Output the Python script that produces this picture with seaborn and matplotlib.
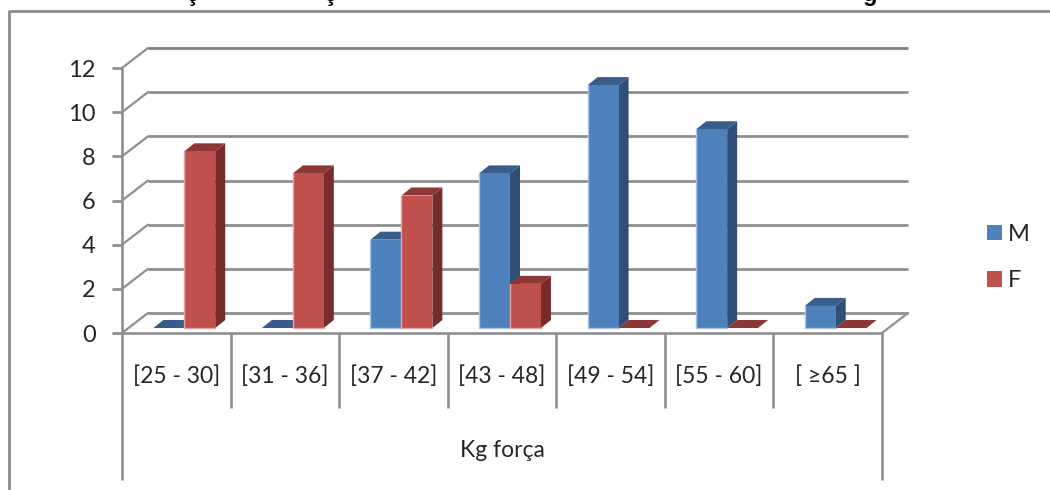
import matplotlib
matplotlib.use("Agg")
import matplotlib.pyplot as plt
from matplotlib.lines import Line2D
from matplotlib.patches import Polygon
from matplotlib.transforms import Affine2D
import pandas as pd
import seaborn as sns

categories = ["[25 - 30]", "[31 - 36]", "[37 - 42]", "[43 - 48]", "[49 - 54]", "[55 - 60]", "[ ≥65 ]"]
male = [0, 0, 4, 7, 11, 9, 1]
female = [8, 7, 6, 2, 0, 0, 0]
axis_title = "Kg força"
y_ticks = [0, 2, 4, 6, 8, 10, 12]

W, H = 1050, 490
GRID = "#8f8f8f"
TEXT = "#262626"
FACE = {"M": "#4f81bd", "F": "#c0504d"}
TOP = {"M": "#385d8a", "F": "#8c3836"}
SIDE = {"M": "#2f4f77", "F": "#772c2a"}
EDGE = {"M": "#a9c4e4", "F": "#e8a5a3"}

sns.set_theme(style="white")
plt.rcParams["font.family"] = ["Lato", "DejaVu Sans"]

frame = pd.DataFrame({
    "grupo": categories * 2,
    "sexo": ["M"] * len(categories) + ["F"] * len(categories),
    "valor": male + female,
})

fig = plt.figure(figsize=(W / 100, H / 100), dpi=100, facecolor="white")
# Axes rectangle is the front plane of the 3-D style plot box
ax = fig.add_axes([122 / W, 1 - 333 / H, 760 / W, 265 / H])
ax.patch.set_alpha(0)


def shifted(dx, dy):
    """Data transform followed by a shift in pixels (dy counts upward)."""
    return ax.transData + Affine2D().translate(dx, dy)


sns.barplot(data=frame, x="grupo", y="valor", hue="sexo", hue_order=["M", "F"],
            palette=FACE, width=0.57, dodge=True, saturation=1, gap=0,
            linewidth=0, ax=ax)
ax.set_xlim(-0.5, len(categories) - 0.5)
ax.set_ylim(0, 12)
ax.set_xlabel("")
ax.set_ylabel("")

# Back wall, floor edge and the diagonals joining them to the front plane
DEPTH_X, DEPTH_Y = 26, 20
x0, x1 = ax.get_xlim()
for t in y_ticks:
    shade = "#7f7f7f" if t == 12 else GRID
    ax.plot([x0, x1], [t, t], color=shade, lw=2.0, solid_capstyle="butt",
            transform=shifted(DEPTH_X, DEPTH_Y), clip_on=False, zorder=1)
    ax.add_line(Line2D([0, DEPTH_X], [0, DEPTH_Y], color=GRID, lw=1.6, clip_on=False, zorder=1,
                       transform=Affine2D().translate(*ax.transData.transform((x0, t)))))
right_corner = ax.transData.transform((x1, 0))
ax.add_line(Line2D([0, DEPTH_X], [0, DEPTH_Y], color=GRID, lw=1.6, clip_on=False, zorder=1,
                   transform=Affine2D().translate(*right_corner)))

# Front faces sit slightly inside the box; sides and tops are built from each bar.
# Each series stacks above the previous one so the nearer faces hide what lies behind.
BAR_DX, BAR_DY = 8, 5
FACE_DX, FACE_DY = 10, 8
by_hue = {"M": ax.containers[0], "F": ax.containers[1]}
for level, sex in enumerate(("M", "F")):
    z = 4 + level
    for bar in by_hue[sex]:
        bar.set_transform(shifted(BAR_DX, BAR_DY))
        bar.set_clip_on(False)
        bar.set_zorder(z + 0.2)
        x, w, h = bar.get_x(), bar.get_width(), bar.get_height()
        xa, ya = ax.transData.transform((x, 0))
        xb, yt = ax.transData.transform((x + w, h))
        xa, xb, ya, yt = xa + BAR_DX, xb + BAR_DX, ya + BAR_DY, yt + BAR_DY
        if h > 0:
            ax.add_patch(Polygon([(xb, ya), (xb + FACE_DX, ya + FACE_DY),
                                  (xb + FACE_DX, yt + FACE_DY), (xb, yt)],
                                 closed=True, fc=SIDE[sex], ec="none",
                                 transform=None, clip_on=False, zorder=z))
            ax.add_line(Line2D([xa, xa, xb], [yt, ya, ya], color=EDGE[sex], lw=1.0,
                               transform=Affine2D(), clip_on=False, zorder=z + 0.3))
        ax.add_patch(Polygon([(xa, yt), (xb, yt), (xb + FACE_DX, yt + FACE_DY),
                              (xa + FACE_DX, yt + FACE_DY)],
                             closed=True, fc=TOP[sex], ec="none",
                             transform=None, clip_on=False, zorder=z + 0.1))

# Front plane axis lines
sns.despine(ax=ax, top=True, right=True, left=True, bottom=True)
ax.set_yticks(y_ticks)
ax.set_yticklabels([str(t) for t in y_ticks], fontsize=17, color=TEXT)
ax.tick_params(axis="y", length=7, width=2.0, color=GRID, pad=12, left=True)
ax.set_xticks([])
line_kw = dict(color=GRID, lw=1.9, clip_on=False, zorder=3, solid_capstyle="butt")
ax.plot([x0, x1], [0, 0], **line_kw)
axes_t = ax.transAxes
ax.plot([0, 0], [1, -147 / 265], transform=axes_t, **line_kw)
ax.plot([1, 1], [0, -147 / 265], transform=axes_t, **line_kw)
for k in range(1, len(categories)):
    ax.plot([k / len(categories)] * 2, [0, -75 / 265], transform=axes_t, **line_kw)

# Category labels and the axis caption below the box
for k, label in enumerate(categories):
    ax.text((k + 0.5) / len(categories), -43 / 265, label, transform=axes_t,
            ha="center", va="center", fontsize=16.5, color=TEXT)
ax.text(0.5, -117 / 265, axis_title, transform=axes_t, ha="center", va="center",
        fontsize=16.5, color=TEXT)

sns.move_legend(ax, loc="center left", bbox_to_anchor=(966 / W, 1 - 257.5 / H),
                bbox_transform=fig.transFigure, title=None, frameon=False,
                fontsize=17, handlelength=0.62, handleheight=0.62, handletextpad=0.25,
                labelspacing=1.08, labelcolor=TEXT)

# Chart area border, open at the right and bottom edges
fig.add_artist(Line2D([9 / W, 9 / W, 1], [0, 1 - 11 / H, 1 - 11 / H], color="#8c8c8c", lw=2.0,
                      transform=fig.transFigure))

# Heading is cut by the top edge: only its descenders remain in view
for glyph, xp in (("ç", 192), ("ç", 330), ("g", 870)):
    fig.text(xp / W, 1 - 0.5 / H, glyph, ha="center", va="baseline", fontsize=17,
             fontweight="bold", color="black", family="Liberation Sans")

fig.savefig("out.png", dpi=100, facecolor="white")
